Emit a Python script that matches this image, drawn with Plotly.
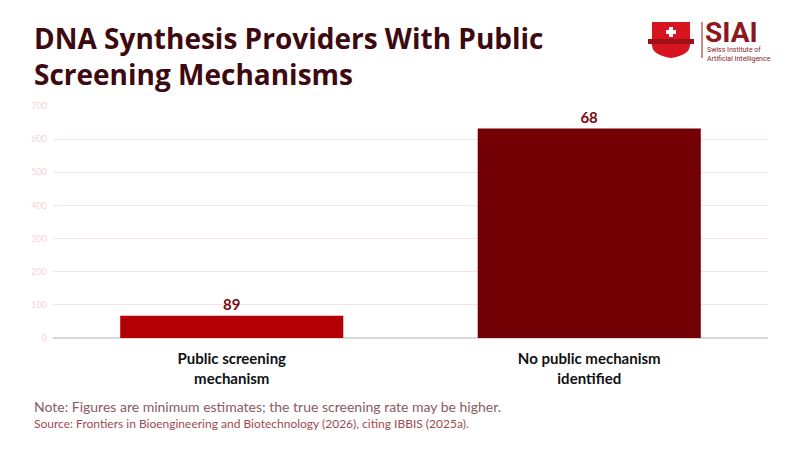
import plotly.graph_objects as go

# data
categories = ["Public screening<br>mechanism", "No public mechanism<br>identified"]
providers = [67, 632]
bar_labels = ["89", "68"]
bar_colors = ["#b30006", "#730005"]

title = "DNA Synthesis Providers With Public<br>Screening Mechanisms"
note = "Note: Figures are minimum estimates; the true screening rate may be higher."
source = "Source: Frontiers in Bioengineering and Biotechnology (2026), citing IBBIS (2025a)."

FONT = "Source Sans Pro, Lato, Noto Sans, sans-serif"

W, H = 800, 450
L, R, T, B = 45, 40, 98, 120
PW, PH = W - L - R, H - T - B
OFF = 8  # the page body margin that shifts the figure in the screenshot


# screenshot pixel -> paper coords of the plot area
def px(x, y):
    return (x - OFF - L) / PW, (H - B - (y - OFF)) / PH


fig = go.Figure()
fig.add_trace(go.Bar(
    x=[0, 1], y=providers,
    marker=dict(color=bar_colors, line=dict(width=0)),
    text=bar_labels, textposition="outside",
    textfont=dict(family=FONT, size=15, color="#7a0a10", weight="bold"),
    cliponaxis=False, hoverinfo="skip",
))

fig.update_layout(
    width=W, height=H,
    margin=dict(l=L, r=R, t=T, b=B, autoexpand=False),
    paper_bgcolor="white", plot_bgcolor="white",
    showlegend=False, bargap=0.376,
    font=dict(family=FONT),
    xaxis=dict(
        range=[-0.5, 1.5], tickvals=[0, 1], ticktext=categories,
        tickfont=dict(family=FONT, size=15, color="#111111", weight="bold"),
        showgrid=False, showline=False, ticks="", zeroline=False,
        automargin=False, ticklabelstandoff=10,
    ),
    yaxis=dict(
        range=[0, 700], dtick=100,
        tickfont=dict(family=FONT, size=9, color="#f3d5d8"),
        gridcolor="#f7e4e6", gridwidth=1,
        zeroline=True, zerolinecolor="#d9d9d9", zerolinewidth=1.5,
        ticks="", showline=False, automargin=False, ticklabelstandoff=5,
    ),
)

tx, ty = px(32, 17)
fig.add_annotation(text=title, xref="paper", yref="paper", x=tx, y=ty,
                   xanchor="left", yanchor="top", showarrow=False, align="left",
                   font=dict(family="Open Sans, sans-serif", size=28, color="#3d0a0f", weight="bold"))

nx, ny = px(32, 396)
fig.add_annotation(text=note, xref="paper", yref="paper", x=nx, y=ny,
                   xanchor="left", yanchor="top", showarrow=False,
                   font=dict(family=FONT, size=14, color="#8c5a5f"))
sx, sy = px(32, 414)
fig.add_annotation(text=source, xref="paper", yref="paper", x=sx, y=sy,
                   xanchor="left", yanchor="top", showarrow=False,
                   font=dict(family=FONT, size=12, color="#9e4a50"))

# SIAI logo, approximated with shapes and text
x0, y0 = px(652, 22)
x1, y1 = px(690, 58)
xm = (x0 + x1) / 2
_, ys = px(0, 45)
_, yq = px(0, 55)
fig.add_shape(type="path", xref="paper", yref="paper",
              path=f"M {x0},{y0} L {x1},{y0} L {x1},{ys} Q {x1},{yq} {xm},{y1} "
                   f"Q {x0},{yq} {x0},{ys} Z",
              fillcolor="#d7141f", line=dict(width=0))
rx0, ry0 = px(648, 39)
rx1, ry1 = px(694, 44)
fig.add_shape(type="rect", xref="paper", yref="paper", x0=rx0, y0=ry0, x1=rx1, y1=ry1,
              fillcolor="#9e0f18", line=dict(width=0))
for (ax0, ay0, ax1, ay1) in [(669, 27, 673, 37), (666, 30, 676, 34)]:
    a, b = px(ax0, ay0)
    c, d = px(ax1, ay1)
    fig.add_shape(type="rect", xref="paper", yref="paper", x0=a, y0=b, x1=c, y1=d,
                  fillcolor="white", line=dict(width=0))
lx, ly0 = px(702, 22)
_, ly1 = px(702, 58)
fig.add_shape(type="line", xref="paper", yref="paper", x0=lx, x1=lx, y0=ly0, y1=ly1,
              line=dict(color="#8b1a1f", width=1))
# box trimmed to the capitals so it does not run into the line below
ax, ay = px(704, 32)
fig.add_annotation(text="SIAI", xref="paper", yref="paper", x=ax, y=ay,
                   xanchor="left", yanchor="middle", showarrow=False,
                   height=22, valign="middle", borderpad=0,
                   font=dict(family="Roboto, sans-serif", size=28, color="#8b1a1f", weight="bold"))
bx, by = px(705, 44)
fig.add_annotation(text="Swiss Institute of<br>Artificial Intelligence", xref="paper", yref="paper",
                   x=bx, y=by, xanchor="left", yanchor="top", showarrow=False, align="left",
                   font=dict(family="Roboto, sans-serif", size=7, color="#8b1a1f"))

fig.write_html("out.html")
